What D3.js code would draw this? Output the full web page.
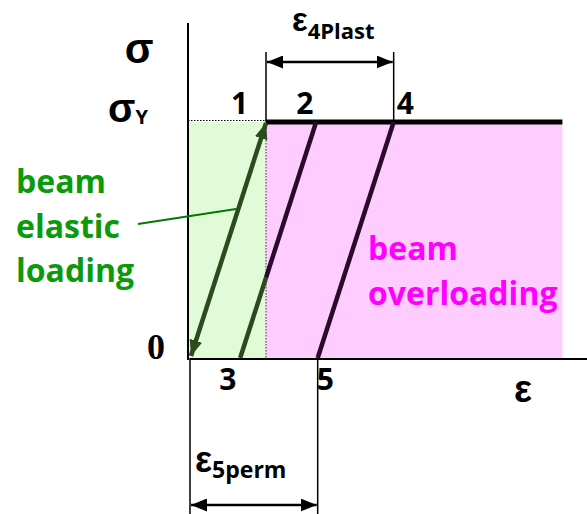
<!DOCTYPE html>
<html>
<head>
<meta charset="utf-8">
<script src="https://cdn.jsdelivr.net/npm/d3@7"></script>
<style>
  html, body { margin: 0; padding: 0; background: #fff; }
  svg { display: block; }
  .num { font-family: "Open Sans", Lato, sans-serif; font-weight: bold; font-size: 30px; fill: #000; }
  .greek { font-family: "Liberation Sans", Arial, sans-serif; font-weight: bold; fill: #000; }
  .sub { font-family: "Open Sans", Lato, sans-serif; font-weight: bold; fill: #000; }
  .note { font-family: "Open Sans", Lato, sans-serif; font-weight: bold; font-size: 32px; }
  .zero { font-family: "Liberation Serif", "DejaVu Serif", serif; font-weight: bold; font-size: 36px; fill: #000; }
</style>
</head>
<body>
<div id="chart"></div>
<script>
/* Stress-strain sketch: elastic loading 0-1, yield plateau, elastic unloading 2-3 and 4-5.
   Strain in units of yield strain, stress in units of yield stress. */

// numbered points on the diagram
const pointNames  = ["0", "1", "2", "3", "4", "5"];
const pointStrain = [0, 1, 1.66, 0.66, 2.68, 1.68];
const pointStress = [0, 1, 1, 0, 1, 0];

// unloading lines (from bottom point to top point)
const unloadFrom = ["3", "5"];
const unloadTo   = ["2", "4"];

// shaded regions (strain ranges)
const regionNames = ["elastic", "overloading"];
const regionStart = [0, 1];
const regionEnd   = [1, 4.9];

// axis extents
const strainMax = 5.25;
const stressMax = 1.42;

const W = 587, H = 514;
const x = d3.scaleLinear().domain([0, 1]).range([190, 266]);
const y = d3.scaleLinear().domain([0, 1]).range([358, 122]);

const pt = name => {
  const i = pointNames.indexOf(name);
  return [x(pointStrain[i]), y(pointStress[i])];
};

const svg = d3.select("#chart").append("svg")
    .attr("width", W).attr("height", H);

const defs = svg.append("defs");
function arrowMarker(id, color, len, wid){
  defs.append("marker").attr("id", id)
      .attr("viewBox", `0 0 ${len} ${wid}`)
      .attr("refX", len).attr("refY", wid / 2)
      .attr("markerWidth", len).attr("markerHeight", wid)
      .attr("markerUnits", "userSpaceOnUse")
      .attr("orient", "auto-start-reverse")
    .append("path")
      .attr("d", `M0,0 L${len},${wid / 2} L0,${wid} Z`)
      .attr("fill", color);
}
arrowMarker("dimArrow", "#000", 16, 13);
arrowMarker("greenArrow", "#2b4a1e", 16, 13);

// ---- shaded regions ----
const regionFill = { elastic: "#e1fbd8", overloading: "#ffccff" };
svg.append("g").selectAll("rect").data(regionNames).join("rect")
    .attr("x", (d, i) => x(regionStart[i]) - (i === 0 ? 2 : 0))
    .attr("width", (d, i) => x(regionEnd[i]) - x(regionStart[i]) + (i === 0 ? 2 : 0))
    .attr("y", y(1))
    .attr("height", y(0) - y(1))
    .attr("fill", d => regionFill[d]);

// dotted guides at yield
svg.append("line")
    .attr("x1", x(0) - 2).attr("x2", x(1))
    .attr("y1", y(1) - 1.5).attr("y2", y(1) - 1.5)
    .attr("stroke", "#000").attr("stroke-width", 1.2).attr("stroke-dasharray", "1.5,1.5");
svg.append("line")
    .attr("x1", x(1)).attr("x2", x(1))
    .attr("y1", y(1)).attr("y2", y(0))
    .attr("stroke", "#555").attr("stroke-width", 1.2).attr("stroke-dasharray", "1.5,1.5");

// ---- axes ----
svg.append("line")
    .attr("x1", x(0) - 2).attr("x2", x(0) - 2)
    .attr("y1", y(stressMax)).attr("y2", y(0) + 2)
    .attr("stroke", "#000").attr("stroke-width", 2);
svg.append("line")
    .attr("x1", x(0)).attr("x2", x(strainMax))
    .attr("y1", y(0) + 1).attr("y2", y(0) + 1)
    .attr("stroke", "#000").attr("stroke-width", 2);

// ---- yield plateau ----
svg.append("line")
    .attr("x1", x(1)).attr("x2", x(regionEnd[1]))
    .attr("y1", y(1)).attr("y2", y(1))
    .attr("stroke", "#000").attr("stroke-width", 5);

// ---- unloading lines (green inside elastic zone, dark purple beyond) ----
const lineDark = "#2b0a2b", lineGreen = "#2b4a1e";
unloadFrom.forEach((from, i) => {
  const a = pt(from), b = pt(unloadTo[i]);
  if (a[0] < x(1)) {
    const t = (x(1) - a[0]) / (b[0] - a[0]);
    const m = [x(1), a[1] + t * (b[1] - a[1])];
    svg.append("line").attr("x1", a[0]).attr("y1", a[1]).attr("x2", m[0]).attr("y2", m[1])
        .attr("stroke", lineGreen).attr("stroke-width", 4.5);
    svg.append("line").attr("x1", m[0]).attr("y1", m[1]).attr("x2", b[0]).attr("y2", b[1])
        .attr("stroke", lineDark).attr("stroke-width", 4.5);
  } else {
    svg.append("line").attr("x1", a[0]).attr("y1", a[1]).attr("x2", b[0]).attr("y2", b[1])
        .attr("stroke", lineDark).attr("stroke-width", 4.5);
  }
});

// ---- elastic loading / unloading 0 <-> 1 ----
const p0 = pt("0"), p1 = pt("1");
svg.append("line")
    .attr("x1", p0[0] + 1).attr("y1", p0[1] - 2)
    .attr("x2", p1[0]).attr("y2", p1[1] + 1)
    .attr("stroke", lineGreen).attr("stroke-width", 4.5)
    .attr("marker-start", "url(#greenArrow)")
    .attr("marker-end", "url(#greenArrow)");

// callout for the elastic label
svg.append("line")
    .attr("x1", 138).attr("y1", 224).attr("x2", 236).attr("y2", 209)
    .attr("stroke", "#007a00").attr("stroke-width", 2);

// ---- dimension lines ----
const p4 = pt("4"), p5 = pt("5");
const dim = svg.append("g").attr("stroke", "#000").attr("stroke-width", 1.5);
dim.append("line").attr("x1", p1[0]).attr("x2", p1[0]).attr("y1", 52).attr("y2", y(1));
dim.append("line").attr("x1", p4[0]).attr("x2", p4[0]).attr("y1", 52).attr("y2", y(1));
dim.append("line").attr("x1", p1[0] + 1).attr("x2", p4[0] - 1).attr("y1", 62).attr("y2", 62)
    .attr("stroke-width", 2.5)
    .attr("marker-start", "url(#dimArrow)").attr("marker-end", "url(#dimArrow)");
dim.append("line").attr("x1", p0[0]).attr("x2", p0[0]).attr("y1", y(0)).attr("y2", H);
dim.append("line").attr("x1", p5[0]).attr("x2", p5[0]).attr("y1", y(0)).attr("y2", H);
dim.append("line").attr("x1", p0[0] + 1).attr("x2", p5[0] - 1).attr("y1", 505).attr("y2", 505)
    .attr("stroke-width", 2.5)
    .attr("marker-start", "url(#dimArrow)").attr("marker-end", "url(#dimArrow)");

// ---- point labels ----
const labelOffset = { "1": [-35, -8], "2": [-20, -8], "3": [-21, 32], "4": [3, -8], "5": [-1, 32] };
svg.append("g").selectAll("text").data(pointNames.filter(n => n !== "0")).join("text")
    .attr("class", "num")
    .attr("x", d => pt(d)[0] + labelOffset[d][0])
    .attr("y", d => pt(d)[1] + labelOffset[d][1])
    .text(d => d);
svg.append("text").attr("class", "zero")
    .attr("x", 147).attr("y", y(0) + 1)
    .text("0");

// ---- axis symbols ----
svg.append("text").attr("class", "greek").attr("x", 139).attr("y", 63)
    .attr("text-anchor", "middle").style("font-size", "42px").text("σ");
const sy = svg.append("text").attr("class", "greek").attr("x", 108).attr("y", 122).style("font-size", "40px");
sy.append("tspan").text("σ");
sy.append("tspan").attr("class", "sub").attr("dy", 2).style("font-size", "20px").text("Y");
svg.append("text").attr("class", "greek").attr("x", 514).attr("y", 402)
    .style("font-size", "38px").text("ε");

const e4 = svg.append("text").attr("class", "greek").attr("x", 292).attr("y", 31).style("font-size", "33px");
e4.append("tspan").text("ε");
e4.append("tspan").attr("class", "sub").attr("dy", 8).style("font-size", "22px").text("4Plast");

const e5 = svg.append("text").attr("class", "greek").attr("x", 195).attr("y", 472).style("font-size", "36px");
e5.append("tspan").text("ε");
e5.append("tspan").attr("class", "sub").attr("dy", 6).style("font-size", "23px").text("5perm");

// ---- region notes ----
const greenText = ["beam", "elastic", "loading"];
svg.append("g").selectAll("text").data(greenText).join("text")
    .attr("class", "note").attr("fill", "#0a9a0a")
    .attr("x", 16).attr("y", (d, i) => 193 + i * 44.5)
    .text(d => d);

const pinkText = ["beam", "overloading"];
svg.append("g").selectAll("text").data(pinkText).join("text")
    .attr("class", "note").attr("fill", "#ff00ff")
    .attr("x", 368).attr("y", (d, i) => 260 + i * 45)
    .text(d => d);
</script>
</body>
</html>
